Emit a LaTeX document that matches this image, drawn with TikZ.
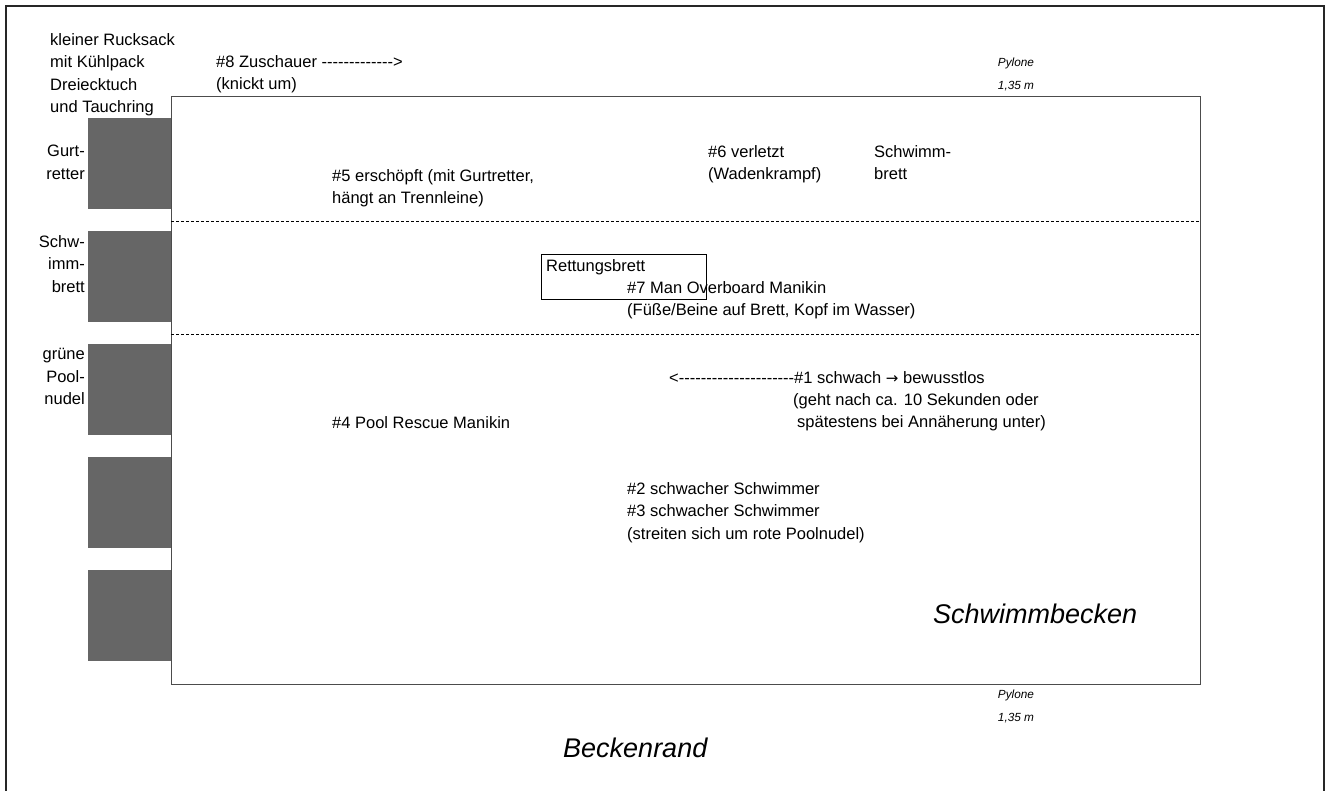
\documentclass[tikz,border=0pt]{standalone}
\usepackage{xcolor}
\usepackage{fontspec}
\usepackage{tikz}
\newfontfamily\poolfont{Liberation Sans}
\newfontfamily\arrowfont{DejaVu Sans}
\definecolor{blockgray}{HTML}{666666}

\begin{document}
\begin{tikzpicture}[x=1pt, y=-1pt,
    every node/.style={inner sep=0pt, font=\poolfont\fontsize{16.5}{22.5}\selectfont},
    lbl/.style={anchor=north west, align=left},
    side/.style={anchor=north east, align=right},
    pylone/.style={anchor=north, align=center, font=\poolfont\itshape\fontsize{11.8}{22.5}\selectfont},
    big/.style={anchor=base west, font=\poolfont\itshape\fontsize{27}{30}\selectfont}]
    \useasboundingbox (0, 0) rectangle (1330, 791);
    % frame and pool
    \draw[line width=1.6pt, black!85] (6, 795) -- (6, 6) -- (1324, 6) -- (1324, 795);
    \draw[line width=1pt, black!70] (171, 97) rectangle (1200, 684);
    \draw[line width=0.8pt, dash pattern=on 3pt off 2pt] (171, 221) -- (1200, 221);
    \draw[line width=0.8pt, dash pattern=on 3pt off 2pt] (171, 334) -- (1200, 334);
    % blocks at the edge
    {
      \fill[blockgray] (88, 118) rectangle (171, 209);
      \fill[blockgray] (88, 231) rectangle (171, 322);
      \fill[blockgray] (88, 344) rectangle (171, 435);
      \fill[blockgray] (88, 457) rectangle (171, 548);
      \fill[blockgray] (88, 570) rectangle (171, 661);
    }
    \node[lbl] (rucksack) at (50, 33) {kleiner Rucksack\\mit Kühlpack\\Dreiecktuch\\und Tauchring};
    \node[side] (gurt) at (85, 145) {Gurt-\\retter};
    \node[side] (brett) at (85, 235) {Schw-\\imm-\\brett};
    \node[side] (nudel) at (85, 348) {grüne\\Pool-\\nudel};
    \node[lbl] (v8) at (216, 55) {\#8 Zuschauer ------------->\\(knickt um)};
    \node[pylone] (pyTop) at (1016, 58) {Pylone\\1,35 m};
    \node[pylone] (pyBot) at (1016, 690) {Pylone\\1,35 m};
    % lane 1
    \node[lbl] (v5) at (332, 169) {\#5 erschöpft (mit Gurtretter,\\hängt an Trennleine)};
    \node[lbl] (v6) at (708, 145) {\#6 verletzt\\(Wadenkrampf)};
    \node[lbl] (sbrett) at (874, 145) {Schwimm-\\brett};
    % lane 2
    \draw (541, 254) rectangle (706, 299);
    \node[lbl] (rbrett) at (546, 259) {Rettungsbrett};
    \node[lbl] (v7) at (627, 281) {\#7 Man Overboard Manikin\\(Füße/Beine auf Brett, Kopf im Wasser)};
    % lane 3
    \node[lbl] (v1) at (669, 371) {<---------------------\#1 schwach {\arrowfont\fontsize{15}{22.5}\selectfont →} bewusstlos};
    \node[lbl] (v1b) at (793, 393) {(geht nach ca. 10 Sekunden oder\\\hspace{4pt}spätestens bei Annäherung unter)};
    \node[lbl] (v4) at (332, 416) {\#4 Pool Rescue Manikin};
    \node[lbl] (v23) at (627, 482) {\#2 schwacher Schwimmer\\\#3 schwacher Schwimmer\\(streiten sich um rote Poolnudel)};
    \node[big] (becken) at (933, 623) {Schwimmbecken};
    \node[big] (rand) at (563, 757) {Beckenrand};
  \end{tikzpicture}
\end{document}
